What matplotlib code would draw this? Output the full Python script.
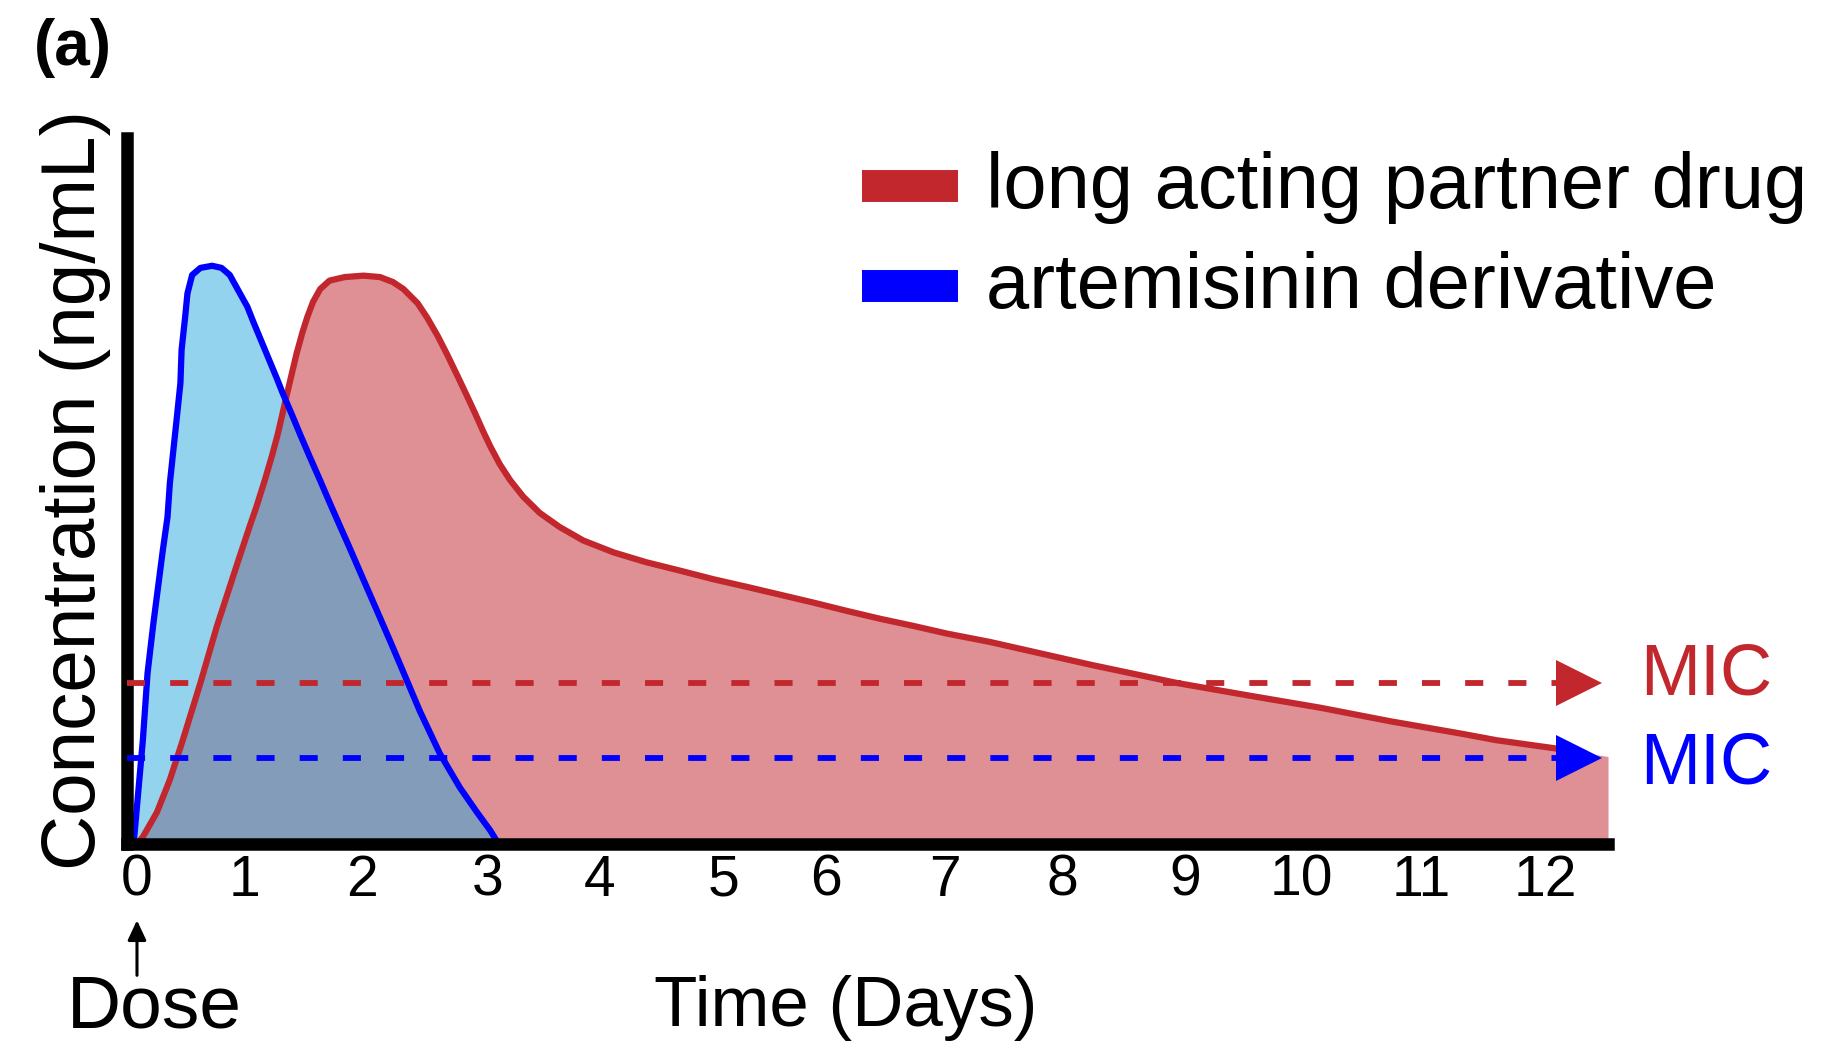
import matplotlib.pyplot as plt
from matplotlib.lines import Line2D

plt.rcParams['font.family'] = ['Liberation Sans', 'DejaVu Sans']

# time in days, concentration in arbitrary units (axis top = 100)
art_days = [-0.03, -0.02, 0.05, 0.09, 0.14, 0.22, 0.26, 0.28, 0.31, 0.34, 0.37, 0.38,
            0.41, 0.43, 0.47, 0.54, 0.64, 0.72, 0.79, 0.86, 0.94, 0.99, 1.05, 1.12,
            1.19, 1.24, 1.32, 1.39, 1.47, 1.56, 1.64, 1.73, 1.81, 1.93, 2.04, 2.16,
            2.27, 2.41, 2.58, 2.75, 2.90, 3.01, 3.08]
art_conc = [0.0, 1.6, 14.7, 24.2, 31.3, 41.6, 46.3, 51.1, 55.8, 60.5, 65.3, 70.0,
            74.6, 78.0, 80.6, 81.6, 81.9, 81.6, 80.6, 78.5, 76.1, 74.0, 71.6, 68.8,
            66.0, 63.9, 60.8, 58.0, 54.9, 51.5, 48.4, 45.0, 42.0, 37.4, 33.2, 28.6,
            24.3, 18.8, 12.8, 8.0, 4.4, 1.9, 0.0]

partner_days = [0.0, 0.05, 0.17, 0.28, 0.39, 0.54, 0.68, 0.86, 0.90, 0.96, 1.02, 1.09,
                1.15, 1.20, 1.24, 1.29, 1.33, 1.36, 1.41, 1.45, 1.50, 1.56, 1.64, 1.77,
                1.93, 2.07, 2.18, 2.27, 2.39, 2.47, 2.56, 2.64, 2.73, 2.81, 2.88, 2.95,
                3.01, 3.09, 3.18, 3.29, 3.43, 3.60, 3.80, 4.06, 4.34, 4.63, 4.91, 5.20,
                5.48, 5.76, 6.05, 6.33, 6.61, 6.90, 7.27, 8.12, 8.86, 9.48, 10.08, 10.67,
                11.29, 11.58, 12.10]
partner_conc = [0.0, 1.0, 4.5, 9.1, 14.7, 22.8, 30.8, 40.0, 42.0, 45.0, 47.9, 51.6,
                55.0, 58.1, 61.0, 64.6, 67.4, 69.5, 72.5, 74.6, 76.8, 78.6, 79.8, 80.3,
                80.5, 80.3, 79.6, 78.6, 76.6, 74.6, 72.0, 69.4, 66.3, 63.5, 61.0, 58.4,
                56.3, 53.8, 51.5, 49.2, 46.9, 44.9, 43.0, 41.3, 39.9, 38.7, 37.5, 36.4,
                35.3, 34.2, 33.0, 31.9, 30.9, 29.8, 28.6, 25.4, 22.8, 21.0, 19.3, 17.4,
                15.6, 14.7, 13.5]
# shaded area runs on past the end of the line
partner_fill_end_day = 12.53
partner_fill_end_conc = 12.4

mic_partner = 22.8
mic_art = 12.2
mic_line_end = 12.10
mic_arrow_day = 12.28

tick_days = [0, 0.92, 1.92, 2.99, 3.94, 5.0, 5.87, 6.88, 7.88, 8.93, 9.92, 10.94, 12.0]
tick_labels = ['0', '1', '2', '3', '4', '5', '6', '7', '8', '9', '10', '11', '12']

labels = ['long acting partner drug', 'artemisinin derivative']

RED = '#C1272D'
RED_FILL = '#DE9094'
BLUE = '#0000FF'
BLUE_FILL = '#29A9DF'
X_LEFT, X_RIGHT = -0.085, 12.53

fig = plt.figure(figsize=(18.3, 10.43), dpi=100)
ax = fig.add_axes([0.0694, 0.1908, 0.8093, 0.6769])

ax.fill_between(partner_days + [partner_fill_end_day], partner_conc + [partner_fill_end_conc],
                color=RED_FILL, lw=0, zorder=1)
ax.fill_between(art_days, art_conc, color=BLUE_FILL, alpha=0.5, lw=0, zorder=1.1)

# MIC dashed arrows
for mic, col in [(mic_partner, RED), (mic_art, BLUE)]:
    ax.plot([X_LEFT, mic_line_end], [mic, mic], color=col, lw=4.2,
            ls=(0, (3.1, 4.3)), dash_capstyle='butt', zorder=3, clip_on=False)
    ax.plot([mic_arrow_day], [mic], marker='>', ms=33, mew=0, color=col,
            zorder=3, clip_on=False)

ax.plot(partner_days, partner_conc, color=RED, lw=4.5, zorder=2,
        solid_joinstyle='round')
ax.plot(art_days, art_conc, color=BLUE, lw=4.5, zorder=2.1,
        solid_joinstyle='round')

ax.annotate('MIC', xy=(12.80, mic_partner), xytext=(0, 5), textcoords='offset points',
            va='center', ha='left', fontsize=52, color=RED, annotation_clip=False)
ax.annotate('MIC', xy=(12.80, mic_art), xytext=(0, -5), textcoords='offset points',
            va='center', ha='left', fontsize=52, color=BLUE, annotation_clip=False)

ax.set_xlim(X_LEFT, X_RIGHT)
ax.set_ylim(0, 100)
ax.set_xticks(tick_days, tick_labels)
ax.set_yticks([])
ax.tick_params(axis='x', length=0, pad=7, labelsize=41)

for s in ['top', 'right']:
    ax.spines[s].set_visible(False)
for s in ['left', 'bottom']:
    ax.spines[s].set_linewidth(9)

ax.set_ylabel('Concentration (ng/mL)', fontsize=55)
ax.yaxis.set_label_coords(-0.0108, 0.501)
ax.set_xlabel('Time (Days)', fontsize=51)
ax.xaxis.set_label_coords(0.4855, -0.1856)

# dose arrow under day 0
ax.annotate('', xy=(0, -0.108), xytext=(0, -0.186), xycoords=('data', 'axes fraction'),
            arrowprops=dict(arrowstyle='-|>,head_length=0.6,head_width=0.28',
                            mutation_scale=20, color='black', lw=2.2,
                            shrinkA=0, shrinkB=0),
            annotation_clip=False)
fig.text(0.0842, 0.0153, 'Dose', fontsize=54, ha='center', va='baseline')
fig.text(0.0186, 0.9827, '(a)', fontsize=46, fontweight='bold', ha='left', va='top')

handles = [Line2D([], [], color=RED, lw=23, solid_capstyle='butt'),
           Line2D([], [], color=BLUE, lw=23, solid_capstyle='butt')]
ax.legend(handles, labels, loc='upper left', bbox_to_anchor=(0.471, 0.855),
          bbox_transform=fig.transFigure, frameon=False, fontsize=56,
          handlelength=1.23, handleheight=0.25, handletextpad=0.36,
          labelspacing=0.35, borderpad=0, borderaxespad=0)

fig.savefig('out.png', dpi=100)
